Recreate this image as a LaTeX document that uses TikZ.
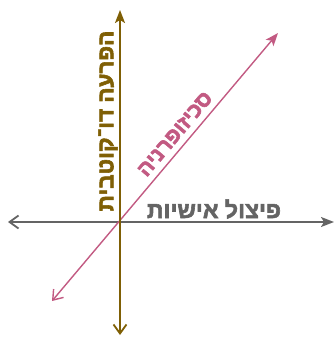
\documentclass[tikz,border=0pt]{standalone}
\usepackage{fontspec}
\usepackage{xcolor}
\usetikzlibrary{arrows.meta}
\TeXXeTstate=1
\newfontfamily\hebfont[Script=Hebrew,FakeBold=2.5]{Liberation Sans Bold}
\definecolor{bipolar}{HTML}{7F5F05}
\definecolor{schizo}{HTML}{C25A82}
\definecolor{split}{HTML}{646464}

\begin{document}
\begin{tikzpicture}[x=1pt,y=-1pt,
  every node/.style={inner sep=0pt},
  axis/.style={line width=1.8pt,{Straight Barb[length=9pt,width=13pt]}-{Stealth[length=13pt,width=10pt,inset=3pt]}}]
  \useasboundingbox (0,0) rectangle (336,337);
  % axis ends
  \coordinate (vtop) at (120,10);
  \coordinate (vbot) at (120,335);
  \coordinate (hleft) at (8,222);
  \coordinate (hright) at (334,222);
  \coordinate (dbot) at (52,301);
  \coordinate (dtop) at (278,33);
  \draw[axis,split] (hleft) -- (hright);
  \draw[axis,schizo,line width=1.4pt] (dbot) -- (dtop);
  \draw[axis,bipolar] (vbot) -- (vtop);
  % labels
  \node[bipolar,rotate=90,font=\hebfont\fontsize{22.5}{22.5}\selectfont] (lbipolar) at (108,121) {\beginR הפרעה דו־קוטבית\endR};
  \node[schizo,rotate=49.8,font=\hebfont\fontsize{21.5}{21.5}\selectfont] (lschizo) at (175,134) {\beginR סכיזופרניה\endR};
  \node[split,font=\hebfont\fontsize{23}{23}\selectfont] (lsplit) at (214,209) {\beginR פיצול אישיות\endR};
\end{tikzpicture}
\end{document}
